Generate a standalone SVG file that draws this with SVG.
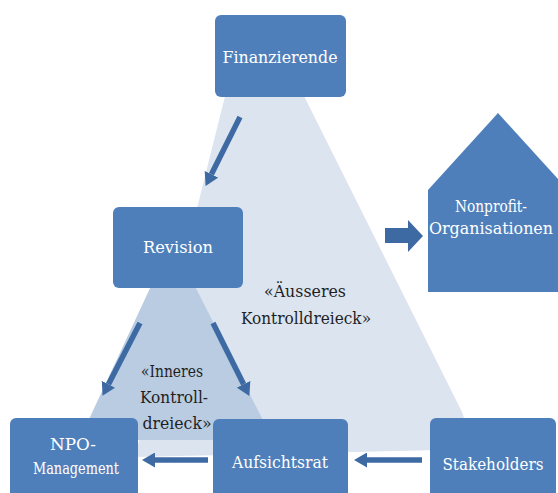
<svg xmlns="http://www.w3.org/2000/svg" width="558" height="493" viewBox="0 0 558 493">
  <defs>
    <style>
      .box { fill: #4f7fba; }
      .bt { font-family: "DejaVu Serif", serif; font-size: 16px; fill: #ffffff; text-anchor: middle; }
      .lbl { font-family: "DejaVu Serif", serif; font-size: 16px; fill: #1f1f1f; text-anchor: middle; }
      .conn { stroke: #3e6aa3; stroke-width: 5.5; fill: none; }
    </style>
    <marker id="ah" markerUnits="userSpaceOnUse" markerWidth="14" markerHeight="15" refX="0" refY="7.5" orient="auto">
      <path d="M0,0 L13,7.5 L0,15 Z" fill="#3e6aa3"/>
    </marker>
  </defs>
  <rect width="558" height="493" fill="#ffffff"/>

  <g id="outer-triangle">
    <path d="M244,20 L266,20 L462,412 Q474,440 440,450 L135,457 Z" fill="#dbe4ef"/>
  </g>
  <g id="inner-triangle">
    <path d="M172,241 L268,430 Q272,440 262,440 L90,440 Q80,440 84,430 Z" fill="#b9cce2"/>
  </g>

  <g id="label-outer">
    <text class="lbl" x="305" y="297" textLength="82" lengthAdjust="spacingAndGlyphs">«Äusseres</text>
    <text class="lbl" x="306" y="324" textLength="130" lengthAdjust="spacingAndGlyphs">Kontrolldreieck»</text>
  </g>
  <g id="label-inner">
    <text class="lbl" x="172" y="377" textLength="62" lengthAdjust="spacingAndGlyphs">«Inneres</text>
    <text class="lbl" x="174" y="403" textLength="68" lengthAdjust="spacingAndGlyphs">Kontroll-</text>
    <text class="lbl" x="177" y="429" textLength="69" lengthAdjust="spacingAndGlyphs">dreieck»</text>
  </g>

  <g id="node-finanzierende">
    <rect class="box" x="215" y="15" width="131" height="82" rx="6"/>
    <text class="bt" x="280" y="63" textLength="115" lengthAdjust="spacingAndGlyphs">Finanzierende</text>
  </g>
  <g id="node-revision">
    <rect class="box" x="113" y="207" width="130" height="81" rx="6"/>
    <text class="bt" x="178" y="253" textLength="70" lengthAdjust="spacingAndGlyphs">Revision</text>
  </g>
  <g id="node-nonprofit">
    <polygon class="box" points="428,190 498,113 568,190 568,292 428,292"/>
    <text class="bt" x="491" y="212" textLength="72" lengthAdjust="spacingAndGlyphs">Nonprofit-</text>
    <text class="bt" x="491" y="234" textLength="124" lengthAdjust="spacingAndGlyphs">Organisationen</text>
  </g>
  <g id="node-npo-management">
    <rect class="box" x="10" y="418" width="128" height="82" rx="6"/>
    <text class="bt" x="73" y="450" textLength="46" lengthAdjust="spacingAndGlyphs">NPO-</text>
    <text class="bt" x="76" y="474" textLength="86" lengthAdjust="spacingAndGlyphs">Management</text>
  </g>
  <g id="node-aufsichtsrat">
    <rect class="box" x="213" y="419" width="135" height="82" rx="6"/>
    <text class="bt" x="280" y="468" textLength="96" lengthAdjust="spacingAndGlyphs">Aufsichtsrat</text>
  </g>
  <g id="node-stakeholders">
    <rect class="box" x="430" y="418" width="126" height="82" rx="6"/>
    <text class="bt" x="493" y="470" textLength="101" lengthAdjust="spacingAndGlyphs">Stakeholders</text>
  </g>

  <g id="connectors">
    <line class="conn" x1="240" y1="117" x2="211.4" y2="174.3" marker-end="url(#ah)"/>
    <line class="conn" x1="140" y1="323" x2="108.5" y2="384.3" marker-end="url(#ah)"/>
    <line class="conn" x1="213" y1="323" x2="243.6" y2="384.3" marker-end="url(#ah)"/>
    <line class="conn" x1="422" y1="460" x2="367" y2="460" marker-end="url(#ah)"/>
    <line class="conn" x1="208" y1="460" x2="155" y2="460" marker-end="url(#ah)"/>
    <polygon points="385,228 408,228 408,220 423,236 408,252 408,243 385,243" fill="#3e6aa3"/>
  </g>
</svg>
